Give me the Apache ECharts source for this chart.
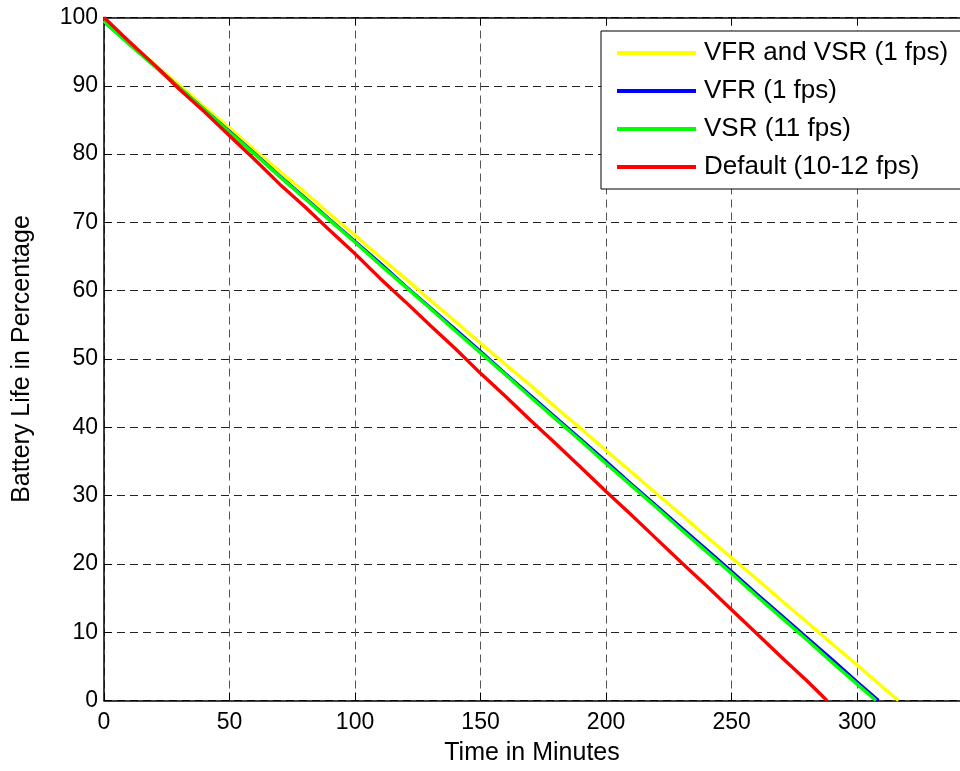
<!DOCTYPE html>
<html>
<head>
<meta charset="utf-8">
<script src="https://cdn.jsdelivr.net/npm/echarts@6/dist/echarts.min.js"></script>
<style>
  html, body { margin: 0; padding: 0; background: #fff; }
  #chart { width: 960px; height: 771px; }
</style>
</head>
<body>
<div id="chart"></div>
<script>
// time in minutes, sampled every 10 min (last point = where the curve hits 0)
const minutes = [0, 10, 20, 30, 40, 50, 60, 70, 80, 90, 100, 110, 120, 130, 140, 150,
  160, 170, 180, 190, 200, 210, 220, 230, 240, 250, 260, 270, 280, 290, 300, 310]

const seriesNames = ['VFR and VSR (1 fps)', 'VFR (1 fps)', 'VSR (11 fps)', 'Default (10-12 fps)']
const seriesColors = ['#ffff00', '#0000ff', '#00ff00', '#ff0000']

// battery life (%)
const vfrVsr = [99.5, 96.4, 93.2, 90.1, 86.9, 83.8, 80.6, 77.5, 74.4, 71.2, 68.1, 64.9, 61.8, 58.6, 55.5, 52.3,
  49.2, 46.1, 42.9, 39.8, 36.6, 33.5, 30.3, 27.2, 24.0, 20.9, 17.8, 14.6, 11.5, 8.3, 5.2, 2.0]
const vfr = [99.4, 96.2, 93.0, 89.7, 86.5, 83.3, 80.1, 76.8, 73.6, 70.4, 67.2, 64.0, 60.7, 57.5, 54.3, 51.1,
  47.8, 44.6, 41.4, 38.2, 35.0, 31.7, 28.5, 25.3, 22.1, 18.9, 15.6, 12.4, 9.2, 6.0, 2.7]
const vsr = [99.4, 96.1, 92.9, 89.7, 86.5, 83.2, 80.0, 76.7, 73.5, 70.3, 67.1, 63.8, 60.6, 57.4, 54.1, 50.9,
  47.7, 44.4, 41.2, 38.0, 34.7, 31.5, 28.3, 25.0, 21.8, 18.6, 15.3, 12.1, 8.9, 5.6, 2.4]
const defaultFps = [100, 96.5, 93.1, 89.5, 86.2, 82.7, 79.2, 75.6, 72.3, 68.8, 65.4, 61.8, 58.4, 54.9, 51.5, 47.9,
  44.5, 41.0, 37.6, 34.1, 30.6, 27.2, 23.7, 20.2, 16.8, 13.3, 9.8, 6.3, 2.9]
// minute at which each curve reaches 0 %
const endMinutes = [316.5, 308.5, 307.5, 288]

// the picture is cut at the right, so the axis just runs off at ~341 min
const xTicks = { min: 0, max: 341, interval: 50 }
const yTicks = { min: 0, max: 100, interval: 10 }

const allValues = [vfrVsr, vfr, vsr, defaultFps]

function toPoints (vals, end) {
  const pts = vals.map((v, i) => [minutes[i], v])
  pts.push([end, 0])
  return pts
}

const chart = echarts.init(document.getElementById('chart'))
const font = 'Liberation Sans, Arial, sans-serif'

chart.setOption({
  animation: false,
  textStyle: { fontFamily: font },
  grid: { left: 104, top: 17.5, bottom: 70.5, right: 0 },
  legend: {
    orient: 'vertical',
    left: 601,
    top: 31,
    padding: [9, 40, 9, 16],
    itemGap: 12,
    itemWidth: 79,
    itemHeight: 4,
    icon: 'rect',
    borderColor: '#000',
    borderWidth: 1,
    backgroundColor: '#fff',
    textStyle: { fontSize: 26, color: '#000', fontFamily: font, padding: [0, 0, 0, 3] },
    data: seriesNames
  },
  xAxis: [{
    type: 'value',
    min: xTicks.min,
    max: xTicks.max,
    interval: xTicks.interval,
    name: 'Time in Minutes',
    nameLocation: 'middle',
    nameGap: 40,
    nameTextStyle: { fontSize: 25, color: '#000' },
    axisLine: { show: true, lineStyle: { color: '#000', width: 1.5 } },
    axisTick: { show: true, inside: true, length: 8, lineStyle: { color: '#000' } },
    axisLabel: { fontSize: 23, color: '#000', margin: 11, showMaxLabel: false },
    splitLine: { show: true, showMaxLine: false, lineStyle: { color: '#555', type: [8, 5], width: 1 } }
  }, {
    type: 'value',
    position: 'top',
    min: xTicks.min,
    max: xTicks.max,
    interval: xTicks.interval,
    axisLine: { show: true, lineStyle: { color: '#000', width: 1.5 } },
    axisTick: { show: true, inside: true, length: 8, lineStyle: { color: '#000' } },
    axisLabel: { show: false },
    splitLine: { show: false }
  }],
  yAxis: {
    type: 'value',
    min: yTicks.min,
    max: yTicks.max,
    interval: yTicks.interval,
    name: 'Battery Life in Percentage',
    nameLocation: 'middle',
    nameGap: 69,
    nameTextStyle: { fontSize: 25, color: '#000' },
    axisLine: { show: true, lineStyle: { color: '#000', width: 1.5 } },
    axisTick: { show: true, inside: true, length: 8, lineStyle: { color: '#000' } },
    axisLabel: { fontSize: 23, color: '#000', margin: 6 },
    splitLine: { show: true, lineStyle: { color: '#222', type: [8, 5], width: 1 } }
  },
  series: seriesNames.map((name, i) => ({
    name: name,
    type: 'line',
    xAxisIndex: 0,
    showSymbol: false,
    symbol: 'none',
    color: seriesColors[i],
    lineStyle: { width: 3.4, color: seriesColors[i] },
    z: 2 + i,
    data: toPoints(allValues[i], endMinutes[i])
  }))
})
</script>
</body>
</html>
